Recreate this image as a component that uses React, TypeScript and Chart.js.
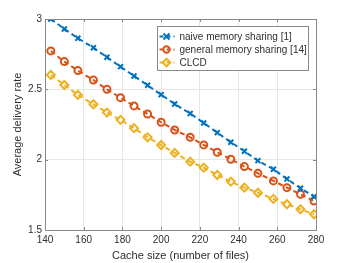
import { useEffect, useRef } from "react";
import { Chart, registerables } from "chart.js";

Chart.register(...registerables);

const cacheSizes = [143, 150, 157, 165, 172, 179, 186, 193, 200, 207, 215, 222, 229, 236, 243, 250, 258, 265, 272, 279];
const naiveRates = [3.0, 2.929, 2.863, 2.796, 2.728, 2.661, 2.595, 2.529, 2.462, 2.396, 2.328, 2.261, 2.192, 2.124, 2.06, 1.993, 1.932, 1.863, 1.797, 1.737];
const generalRates = [2.773, 2.697, 2.633, 2.566, 2.5, 2.441, 2.382, 2.325, 2.266, 2.211, 2.159, 2.105, 2.053, 2.003, 1.951, 1.903, 1.849, 1.801, 1.754, 1.706];
const clcdRates = [2.602, 2.531, 2.46, 2.394, 2.335, 2.283, 2.224, 2.159, 2.104, 2.048, 1.986, 1.943, 1.891, 1.844, 1.801, 1.765, 1.721, 1.683, 1.647, 1.612];
const seriesNames = ["naive memory sharing [1]", "general memory sharing [14]", "CLCD"];
const seriesColors = ["#0072BD", "#D95319", "#EDB120"];
const seriesMarkers = ["crossRot", "circle", "rectRot"];
const xTicks = [140, 160, 180, 200, 220, 240, 260, 280];
const yTicks = [1.5, 2, 2.5, 3];
const xTitle = "Cache size (number of files)";
const yTitle = "Average delivery rate";

const FONT = "'Liberation Sans', Arial, Helvetica, sans-serif";
const AXIS_COLOR = "#8a8a8a";
const TEXT_COLOR = "#2e2e2e";

function drawMarker(ctx: CanvasRenderingContext2D, style: string, x: number, y: number, color: string) {
  ctx.save();
  ctx.strokeStyle = color;
  ctx.lineWidth = 2;
  ctx.setLineDash([]);
  ctx.beginPath();
  if (style === "crossRot") {
    const r = 3;
    ctx.moveTo(x - r, y - r);
    ctx.lineTo(x + r, y + r);
    ctx.moveTo(x + r, y - r);
    ctx.lineTo(x - r, y + r);
  } else if (style === "circle") {
    ctx.arc(x, y, 3.2, 0, Math.PI * 2);
  } else {
    const r = 3.8;
    ctx.moveTo(x, y - r);
    ctx.lineTo(x + r, y);
    ctx.lineTo(x, y + r);
    ctx.lineTo(x - r, y);
    ctx.closePath();
  }
  ctx.stroke();
  ctx.restore();
}

const framePlugin = {
  id: "matlabFrame",
  afterDatasetsDraw(chart: any) {
    const { ctx, chartArea } = chart;
    const { left, right, top, bottom } = chartArea;
    const xs = chart.scales.x;
    const ys = chart.scales.y;
    ctx.save();
    ctx.strokeStyle = AXIS_COLOR;
    ctx.lineWidth = 1;
    ctx.setLineDash([]);
    ctx.strokeRect(Math.round(left) + 0.5, Math.round(top) + 0.5, Math.round(right - left), Math.round(bottom - top));
    ctx.beginPath();
    const tl = 3;
    for (const v of xTicks) {
      const px = Math.round(xs.getPixelForValue(v)) + 0.5;
      ctx.moveTo(px, bottom);
      ctx.lineTo(px, bottom - tl);
      ctx.moveTo(px, top);
      ctx.lineTo(px, top + tl);
    }
    for (const v of yTicks) {
      const py = Math.round(ys.getPixelForValue(v)) + 0.5;
      ctx.moveTo(left, py);
      ctx.lineTo(left + tl, py);
      ctx.moveTo(right, py);
      ctx.lineTo(right - tl, py);
    }
    ctx.stroke();
    ctx.restore();
  },
  afterDraw(chart: any) {
    const { ctx } = chart;
    const bx = 157.5, by = 26.5, bw = 151, bh = 44;
    ctx.save();
    ctx.fillStyle = "#ffffff";
    ctx.fillRect(bx, by, bw, bh);
    ctx.strokeStyle = AXIS_COLOR;
    ctx.lineWidth = 1;
    ctx.strokeRect(bx, by, bw, bh);
    ctx.font = "10px " + FONT;
    ctx.textBaseline = "middle";
    ctx.textAlign = "left";
    chart.data.datasets.forEach((ds: any, i: number) => {
      const y = by + 10 + i * 13;
      ctx.strokeStyle = ds.borderColor;
      ctx.lineWidth = 2;
      ctx.setLineDash([4, 3]);
      ctx.beginPath();
      ctx.moveTo(bx + 2, y);
      ctx.lineTo(bx + 17, y);
      ctx.stroke();
      drawMarker(ctx, ds.pointStyle, bx + 9, y, ds.borderColor);
      ctx.fillStyle = TEXT_COLOR;
      ctx.fillText(ds.label, bx + 22, y + 0.5);
    });
    ctx.restore();
  },
};

export default function App() {
  const canvasRef = useRef<HTMLCanvasElement | null>(null);

  useEffect(() => {
    document.body.style.margin = "0";
    const canvas = canvasRef.current;
    if (!canvas) return;
    const seriesData = [naiveRates, generalRates, clcdRates];
    const datasets = seriesData.map((vals, i) => ({
      label: seriesNames[i],
      data: vals.map((v, j) => ({ x: cacheSizes[j], y: v })),
      borderColor: seriesColors[i],
      backgroundColor: "rgba(0,0,0,0)",
      borderWidth: 2,
      borderDash: [5, 3.5],
      pointStyle: seriesMarkers[i],
      pointRadius: i === 2 ? 4 : 3.5,
      pointBorderWidth: 2,
      pointBackgroundColor: "rgba(0,0,0,0)",
      pointBorderColor: seriesColors[i],
      fill: false,
      tension: 0,
    }));

    const chart = new Chart(canvas, {
      type: "line",
      data: { datasets },
      options: {
        animation: false,
        responsive: false,
        devicePixelRatio: 1,
        layout: { padding: { top: 19, right: 34, left: 0, bottom: 0 } },
        plugins: {
          legend: { display: false },
          tooltip: { enabled: false },
        },
        scales: {
          x: {
            type: "linear",
            min: 140,
            max: 280,
            afterBuildTicks: (scale: any) => {
              scale.ticks = xTicks.map((v) => ({ value: v }));
            },
            afterFit: (scale: any) => {
              scale.height = 33;
            },
            grid: { color: "#e6e6e6", drawTicks: false },
            border: { display: false },
            ticks: {
              padding: 4,
              color: TEXT_COLOR,
              font: { family: FONT, size: 10 },
              maxRotation: 0,
              callback: (v: any) => String(v),
            },
            title: {
              display: true,
              text: xTitle,
              color: TEXT_COLOR,
              font: { family: FONT, size: 11 },
              padding: { top: 0, bottom: 0 },
            },
          },
          y: {
            type: "linear",
            min: 1.5,
            max: 3,
            afterBuildTicks: (scale: any) => {
              scale.ticks = yTicks.map((v) => ({ value: v }));
            },
            afterFit: (scale: any) => {
              scale.width = 45;
            },
            grid: { color: "#e6e6e6", drawTicks: false },
            border: { display: false },
            ticks: {
              padding: 3,
              color: TEXT_COLOR,
              font: { family: FONT, size: 10 },
              callback: (v: any) => String(v),
            },
            title: {
              display: true,
              text: yTitle,
              color: TEXT_COLOR,
              font: { family: FONT, size: 11 },
              padding: { top: 11, bottom: 0 },
            },
          },
        },
      },
      plugins: [framePlugin],
    } as any);

    return () => chart.destroy();
  }, []);

  return <canvas ref={canvasRef} width={350} height={263} style={{ display: "block" }} />;
}
